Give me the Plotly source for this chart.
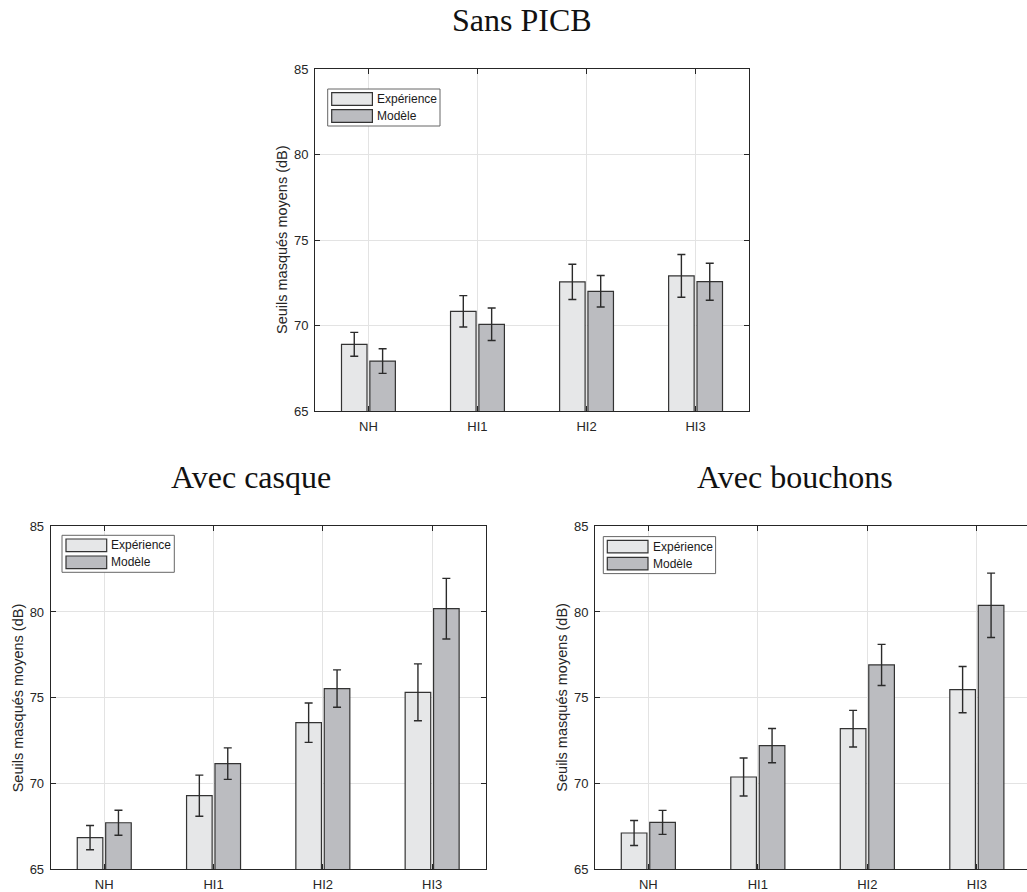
import plotly.graph_objects as go

# ---------------- data ----------------
categories = ["NH", "HI1", "HI2", "HI3"]
series_names = ["Expérience", "Modèle"]

sans_exp = [68.9, 70.83, 72.55, 72.9]
sans_exp_err = [0.70, 0.92, 1.03, 1.25]
sans_mod = [67.92, 70.07, 72.0, 72.56]
sans_mod_err = [0.72, 0.95, 0.92, 1.08]

casque_exp = [66.83, 69.28, 73.54, 75.31]
casque_exp_err = [0.71, 1.20, 1.15, 1.66]
casque_mod = [67.70, 71.15, 75.53, 80.19]
casque_mod_err = [0.73, 0.92, 1.09, 1.77]

bouchons_exp = [67.10, 70.37, 73.19, 75.47]
bouchons_exp_err = [0.73, 1.11, 1.07, 1.35]
bouchons_mod = [67.72, 72.20, 76.91, 80.39]
bouchons_mod_err = [0.70, 1.00, 1.20, 1.88]

panel_titles = ["Sans PICB", "Avec casque", "Avec bouchons"]
y_title = "Seuils masqués moyens (dB)"
y_ticks = [65, 70, 75, 80, 85]

# ---------------- style / layout ----------------
W, H = 1027, 892
col_exp = "#e6e7e8"
col_mod = "#bbbcc0"
edge = "#333333"
axis_col = "#262626"
grid_col = "#e3e3e3"

# axes boxes in pixels (x0, x1, y0_top, y1_bottom) and x ranges
panels = [
    dict(x0=315, x1=749, y0=69, y1=411, xr=[-0.49, 3.49], leg=(12.7, 20.0),
         exp=sans_exp, exp_err=sans_exp_err, mod=sans_mod, mod_err=sans_mod_err),
    dict(x0=50.7, x1=485.7, y0=526.3, y1=869, xr=[-0.49, 3.49], leg=(11.3, 9.0),
         exp=casque_exp, exp_err=casque_exp_err, mod=casque_mod, mod_err=casque_mod_err),
    dict(x0=595, x1=1027, y0=526.3, y1=869, xr=[-0.487, 3.458], leg=(8.3, 10.3),
         exp=bouchons_exp, exp_err=bouchons_exp_err, mod=bouchons_mod, mod_err=bouchons_mod_err),
]
title_pos = [(522, 20), (251, 477), (794.5, 477)]


def px(x):
    return x / W


def py(y):
    return 1 - y / H


fig = go.Figure()
shapes = []
annotations = []

for i, p in enumerate(panels):
    sfx = "" if i == 0 else str(i + 1)
    xa, ya = "x" + sfx, "y" + sfx
    for name, vals, errs, col in [
        (series_names[0], p["exp"], p["exp_err"], col_exp),
        (series_names[1], p["mod"], p["mod_err"], col_mod),
    ]:
        fig.add_trace(go.Bar(
            x=categories, y=vals, name=name, showlegend=False,
            xaxis=xa, yaxis=ya,
            marker=dict(color=col, line=dict(color=edge, width=1.2)),
            error_y=dict(type="data", array=errs, color="#2b2b2b",
                         thickness=1.4, width=4),
        ))
    last = i == 2
    fig.update_layout(**{
        "xaxis" + sfx: dict(
            domain=[px(p["x0"]), min(px(p["x1"]), 1.0)], anchor=ya,
            range=p["xr"], type="category",
            showline=True, linecolor=axis_col, linewidth=1,
            mirror="ticks", ticks="inside", ticklen=5, tickcolor=axis_col,
            showgrid=True, gridcolor=grid_col, gridwidth=1,
            tickfont=dict(family="Liberation Sans, Arial", size=13, color=axis_col),
            automargin=False, zeroline=False, ticklabelstandoff=3,
        ),
        "yaxis" + sfx: dict(
            domain=[py(p["y1"]), py(p["y0"])], anchor=xa,
            range=[65, 85], tickvals=y_ticks,
            showline=True, linecolor=axis_col, linewidth=1,
            mirror=False if last else "ticks", ticks="inside", ticklen=5,
            tickcolor=axis_col,
            showgrid=True, gridcolor=grid_col, gridwidth=1,
            tickfont=dict(family="Liberation Sans, Arial", size=13, color=axis_col),
            automargin=False, zeroline=False, ticklabelstandoff=3,
        ),
    })
    # y-axis title
    annotations.append(dict(
        text=y_title, xref="paper", yref="paper",
        x=px(p["x0"] - 33), y=py((p["y0"] + p["y1"]) / 2),
        xanchor="center", yanchor="middle", textangle=-90, showarrow=False,
        font=dict(family="Liberation Sans, Arial", size=14.5, color=axis_col),
    ))
    # panel title
    tx, ty = title_pos[i]
    annotations.append(dict(
        text=panel_titles[i], xref="paper", yref="paper",
        x=px(tx), y=py(ty), xanchor="center", yanchor="middle",
        showarrow=False,
        font=dict(family="Liberation Serif, Times New Roman, serif", size=32,
                  color="#111111"),
    ))
    # legend box (manual, MATLAB style)
    lx = p["x0"] + p["leg"][0]
    ly = p["y0"] + p["leg"][1]
    shapes.append(dict(type="rect", xref="paper", yref="paper",
                       x0=px(lx), x1=px(lx + 112.3), y0=py(ly + 37), y1=py(ly),
                       fillcolor="white", line=dict(color="#666666", width=1),
                       layer="above"))
    for k, (nm, col) in enumerate([(series_names[0], col_exp),
                                   (series_names[1], col_mod)]):
        sy0 = ly + (3.7 if k == 0 else 20.7)
        sy1 = sy0 + 12.6
        shapes.append(dict(type="rect", xref="paper", yref="paper",
                           x0=px(lx + 4), x1=px(lx + 44.7),
                           y0=py(sy1), y1=py(sy0),
                           fillcolor=col, line=dict(color=edge, width=1.2),
                           layer="above"))
        annotations.append(dict(
            text=nm, xref="paper", yref="paper",
            x=px(lx + 47.2), y=py((sy0 + sy1) / 2),
            xanchor="left", yanchor="middle", showarrow=False,
            font=dict(family="Liberation Sans, Arial", size=12, color="#1a1a1a"),
        ))

fig.update_layout(
    template="none",
    width=W, height=H,
    margin=dict(l=0, r=0, t=0, b=0, pad=0),
    paper_bgcolor="white", plot_bgcolor="white",
    barmode="group", bargap=0.48, bargroupgap=0.1,
    showlegend=False, hovermode=False,
    shapes=shapes, annotations=annotations,
)

fig.write_html(
    "out.html",
    config={"displayModeBar": False, "staticPlot": True},
    post_script="document.body.style.margin='0';document.body.style.overflow='hidden';",
)
